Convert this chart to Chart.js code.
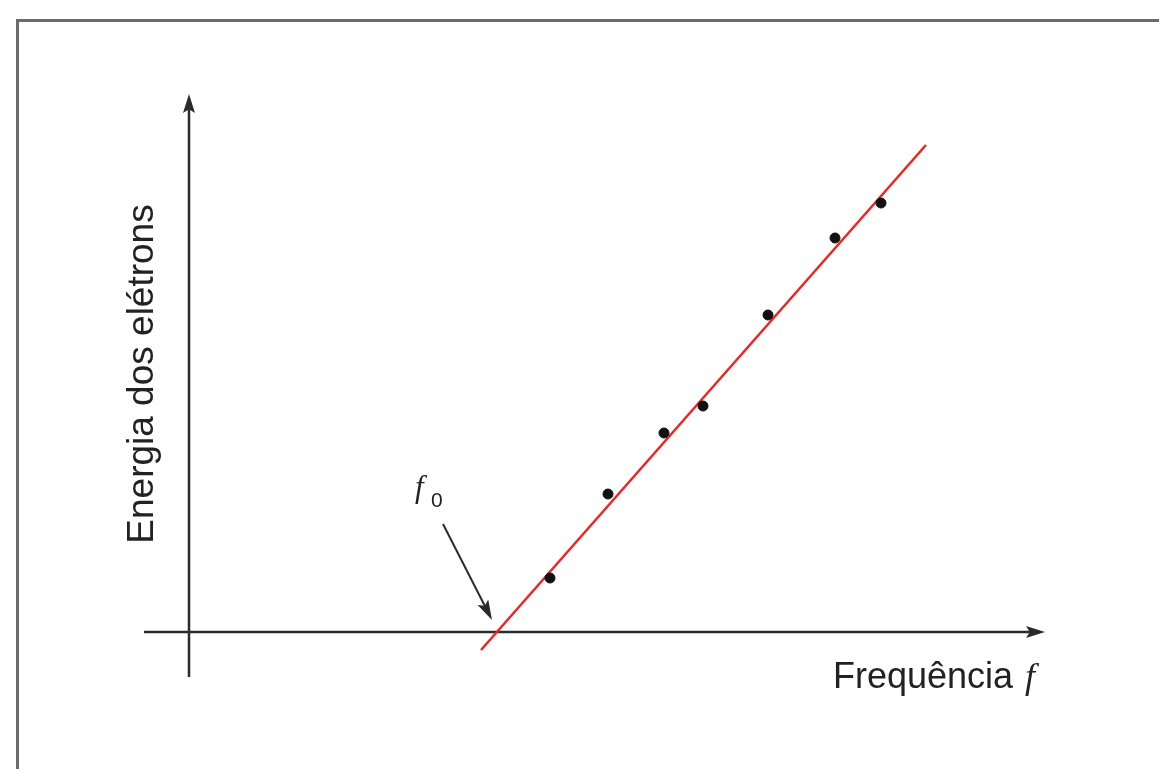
<!DOCTYPE html>
<html>
<head>
<meta charset="utf-8">
<title>Efeito fotoelétrico</title>
<script src="https://cdn.jsdelivr.net/npm/chart.js@4"></script>
<style>
  html, body { margin: 0; padding: 0; background: #fff; overflow: hidden; }
  #wrap { position: relative; width: 1159px; height: 769px; }
</style>
</head>
<body>
<div id="wrap"><canvas id="photoChart"></canvas></div>
<script>
// measured points (frequency, electron energy)
const freq = [36.1, 41.9, 47.5, 51.4, 57.9, 64.6, 69.2];
const energy = [5.4, 13.8, 19.9, 22.6, 31.7, 39.4, 42.9];

// fitted straight line
const fitFreq = [29.2, 73.7];
const fitEnergy = [-1.8, 48.7];

// threshold frequency where the line meets the axis
const f0 = 30.8;

// extent of the drawn axes
const xAxisSpan = [-4.5, 85.6];
const yAxisSpan = [-4.5, 53.8];

const axisColor = '#2b2b2b';

function arrowHead(ctx, x1, y1, x2, y2, len, half) {
    const a = Math.atan2(y2 - y1, x2 - x1);
    const c = Math.cos(a), s = Math.sin(a);
    const bx = x2 - c * len, by = y2 - s * len;
    const nx = x2 - c * len * 0.8, ny = y2 - s * len * 0.8;
    ctx.beginPath();
    ctx.moveTo(x2, y2);
    ctx.lineTo(bx - s * half, by + c * half);
    ctx.lineTo(nx, ny);
    ctx.lineTo(bx + s * half, by - c * half);
    ctx.closePath();
    ctx.fill();
}

function arrowLine(ctx, x1, y1, x2, y2, width, len, half) {
    const a = Math.atan2(y2 - y1, x2 - x1);
    ctx.lineWidth = width;
    ctx.beginPath();
    ctx.moveTo(x1, y1);
    ctx.lineTo(x2 - Math.cos(a) * len * 0.6, y2 - Math.sin(a) * len * 0.6);
    ctx.stroke();
    arrowHead(ctx, x1, y1, x2, y2, len, half);
}

const diagramPlugin = {
    id: 'diagram',
    beforeDatasetsDraw(chart) {
        const ctx = chart.ctx;
        const xs = chart.scales.x, ys = chart.scales.y;
        const x0 = xs.getPixelForValue(0), y0 = ys.getPixelForValue(0);
        ctx.save();

        // frame
        ctx.strokeStyle = '#6b6b6b';
        ctx.lineWidth = 3;
        ctx.beginPath();
        ctx.moveTo(17.5, chart.height + 5);
        ctx.lineTo(17.5, 20.5);
        ctx.lineTo(chart.width + 5, 20.5);
        ctx.stroke();

        // axes
        ctx.strokeStyle = axisColor;
        ctx.fillStyle = axisColor;
        arrowLine(ctx, xs.getPixelForValue(xAxisSpan[0]), y0,
                  xs.getPixelForValue(xAxisSpan[1]), y0, 2.5, 19, 6);
        arrowLine(ctx, x0, ys.getPixelForValue(yAxisSpan[0]),
                  x0, ys.getPixelForValue(yAxisSpan[1]), 2.5, 19, 6);

        // pointer to f0
        arrowLine(ctx, xs.getPixelForValue(f0 - 5.4), ys.getPixelForValue(10.8),
                  xs.getPixelForValue(f0 - 0.5), ys.getPixelForValue(1.2), 2, 20, 6);
        ctx.restore();
    },
    afterDraw(chart) {
        const ctx = chart.ctx;
        const xs = chart.scales.x, ys = chart.scales.y;
        const x0 = xs.getPixelForValue(0), y0 = ys.getPixelForValue(0);
        ctx.save();
        ctx.fillStyle = '#222';
        ctx.textBaseline = 'alphabetic';

        // x axis title
        ctx.font = '36px "Liberation Sans", Arial, sans-serif';
        ctx.textAlign = 'left';
        ctx.fillText('Frequência', 833, y0 + 56);
        ctx.font = 'italic 36px "Liberation Serif", "DejaVu Serif", serif';
        ctx.fillText('f', 1025, y0 + 56);

        // y axis title
        ctx.translate(x0 - 36, 374);
        ctx.rotate(-Math.PI / 2);
        ctx.textAlign = 'center';
        ctx.font = '37px "Liberation Sans", Arial, sans-serif';
        ctx.fillText('Energia dos elétrons', 0, 0);
        ctx.setTransform(1, 0, 0, 1, 0, 0);

        // f0 label
        ctx.textAlign = 'left';
        ctx.font = 'italic 31px "Liberation Serif", "DejaVu Serif", serif';
        ctx.fillText('f', 415, 497);
        ctx.font = '21px "Liberation Sans", Arial, sans-serif';
        ctx.fillText('0', 431, 507);
        ctx.restore();
    }
};

new Chart(document.getElementById('photoChart'), {
    type: 'scatter',
    data: {
        datasets: [
            {
                label: 'Medidas',
                data: freq.map((f, i) => ({ x: f, y: energy[i] })),
                backgroundColor: '#111',
                borderColor: '#111',
                pointRadius: 5,
                pointHoverRadius: 5,
                order: 0
            },
            {
                label: 'Ajuste',
                data: fitFreq.map((f, i) => ({ x: f, y: fitEnergy[i] })),
                showLine: true,
                borderColor: 'rgb(240, 35, 35)',
                borderWidth: 2.5,
                pointRadius: 0,
                order: 1
            }
        ]
    },
    options: {
        responsive: true,
        maintainAspectRatio: false,
        animation: false,
        layout: { padding: 0, autoPadding: false },
        plugins: {
            legend: { display: false },
            tooltip: { enabled: false }
        },
        scales: {
            x: { type: 'linear', display: false, min: -18.9, max: 97.0 },
            y: { type: 'linear', display: false, min: -13.7, max: 63.2 }
        }
    },
    plugins: [diagramPlugin]
});
</script>
</body>
</html>
